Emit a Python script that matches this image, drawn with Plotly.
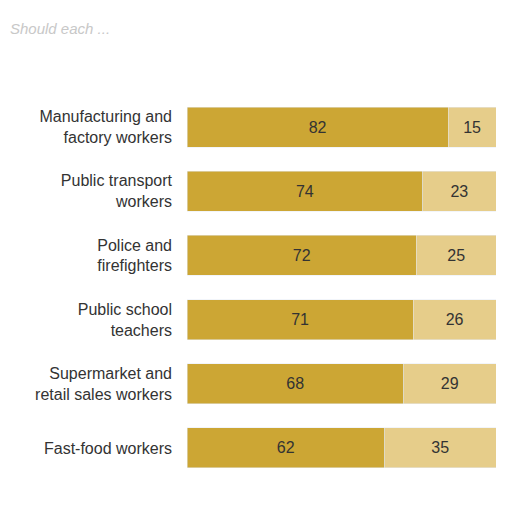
import plotly.graph_objects as go

categories = ["Manufacturing and<br>factory workers", "Public transport<br>workers", "Police and<br>firefighters",
              "Public school<br>teachers", "Supermarket and<br>retail sales workers", "Fast-food workers"]
yes_vals = [82, 74, 72, 71, 68, 62]
no_vals = [15, 23, 25, 26, 29, 35]

fig = go.Figure()
fig.add_trace(go.Bar(y=categories, x=yes_vals, orientation="h", marker_color="#CCA634",
                     text=yes_vals, textposition="inside", insidetextanchor="middle",
                     textfont=dict(color="#333333", size=16), showlegend=False))
fig.add_trace(go.Bar(y=categories, x=no_vals, orientation="h", marker_color="#E6CD8A",
                     text=no_vals, textposition="inside", insidetextanchor="middle",
                     textfont=dict(color="#333333", size=16), showlegend=False))
fig.update_layout(
    barmode="stack", bargap=0.375, width=512, height=512,
    margin=dict(l=179, r=24, t=87, b=40),
    paper_bgcolor="white", plot_bgcolor="white",
    font=dict(family="Liberation Sans, Arial", size=16, color="#333333"),
    xaxis=dict(range=[0, 97], visible=False),
    yaxis=dict(autorange="reversed", showgrid=False, ticks="", ticklabelstandoff=14),
)
fig.add_annotation(text="<i>Should each ...</i>", xref="paper", yref="paper", x=-0.58, y=1.2,
                   xanchor="left", showarrow=False, font=dict(color="#C8C8C8", size=15))
fig.write_html("out.html")
